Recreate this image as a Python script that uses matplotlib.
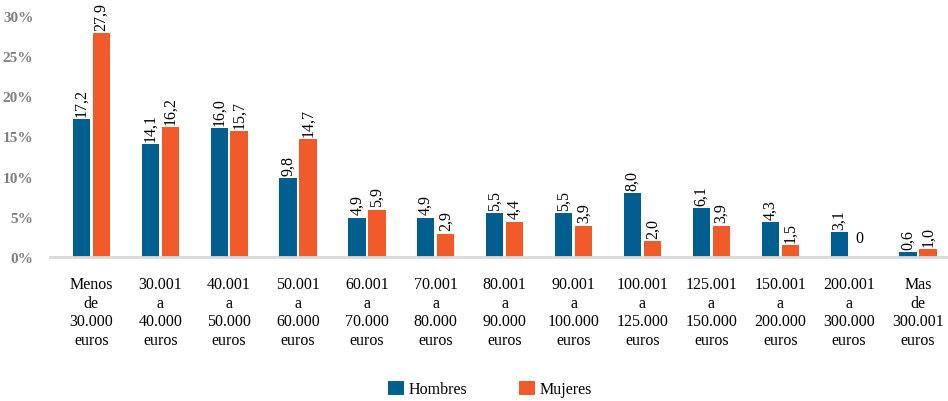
import matplotlib.pyplot as plt
import numpy as np

categorias = ['Menos\nde\n30.000\neuros', '30.001\na\n40.000\neuros', '40.001\na\n50.000\neuros',
              '50.001\na\n60.000\neuros', '60.001\na\n70.000\neuros', '70.001\na\n80.000\neuros',
              '80.001\na\n90.000\neuros', '90.001\na\n100.000\neuros', '100.001\na\n125.000\neuros',
              '125.001\na\n150.000\neuros', '150.001\na\n200.000\neuros', '200.001\na\n300.000\neuros',
              'Mas\nde\n300.001\neuros']
hombres = [17.2, 14.1, 16.0, 9.8, 4.9, 4.9, 5.5, 5.5, 8.0, 6.1, 4.3, 3.1, 0.6]
mujeres = [27.9, 16.2, 15.7, 14.7, 5.9, 2.9, 4.4, 3.9, 2.0, 3.9, 1.5, 0, 1.0]
yticks = [0, 5, 10, 15, 20, 25, 30]

azul = '#005F8F'
naranja = '#F15A29'

plt.rcParams['font.family'] = ['Liberation Serif', 'DejaVu Serif']

fig = plt.figure(figsize=(9.48, 4.02), dpi=100)
ax = fig.add_axes([50 / 948, 1 - 258 / 402, 1 - 50 / 948, (258 - 17) / 402])

x = np.arange(len(categorias))
w = 0.25
off = 0.145
ax.bar(x - off, hombres, w, color=azul, label='Hombres', zorder=2)
ax.bar(x + off, mujeres, w, color=naranja, label='Mujeres', zorder=2)

def etiquetas(pos, vals):
    for xi, v in zip(pos, vals):
        s = ('%.1f' % v).replace('.', ',') if v != 0 else '0'
        if v == 0:
            ax.text(xi, 1.4, s, ha='center', va='bottom', fontsize=11.5, clip_on=False)
        else:
            ax.text(xi, v + 0.4, s, ha='center', va='bottom', rotation=90,
                    fontsize=11.5, clip_on=False)

etiquetas(x - off, hombres)
etiquetas(x + off, mujeres)

ax.set_xlim(-0.6, 12.435)
ax.set_ylim(0, 30)
ax.set_yticks(yticks)
ax.set_yticklabels(['%d%%' % t for t in yticks], fontsize=11, fontweight='bold', color='#7f7f7f')
ax.set_xticks(x)
ax.set_xticklabels(categorias, fontsize=11.5, linespacing=1.2)
ax.tick_params(axis='both', length=0)
ax.tick_params(axis='x', pad=14)
ax.tick_params(axis='y', pad=12)
for s in ['top', 'right', 'left']:
    ax.spines[s].set_visible(False)
ax.spines['bottom'].set_color('#d9d9d9')
ax.spines['bottom'].set_linewidth(2)

fig.legend(loc='center', bbox_to_anchor=(490 / 948, 1 - 390 / 402), ncol=2, frameon=False,
           fontsize=11.5, handlelength=1.0, handleheight=1.0, columnspacing=3.2, handletextpad=0.3)

fig.savefig('out.png', dpi=100)
